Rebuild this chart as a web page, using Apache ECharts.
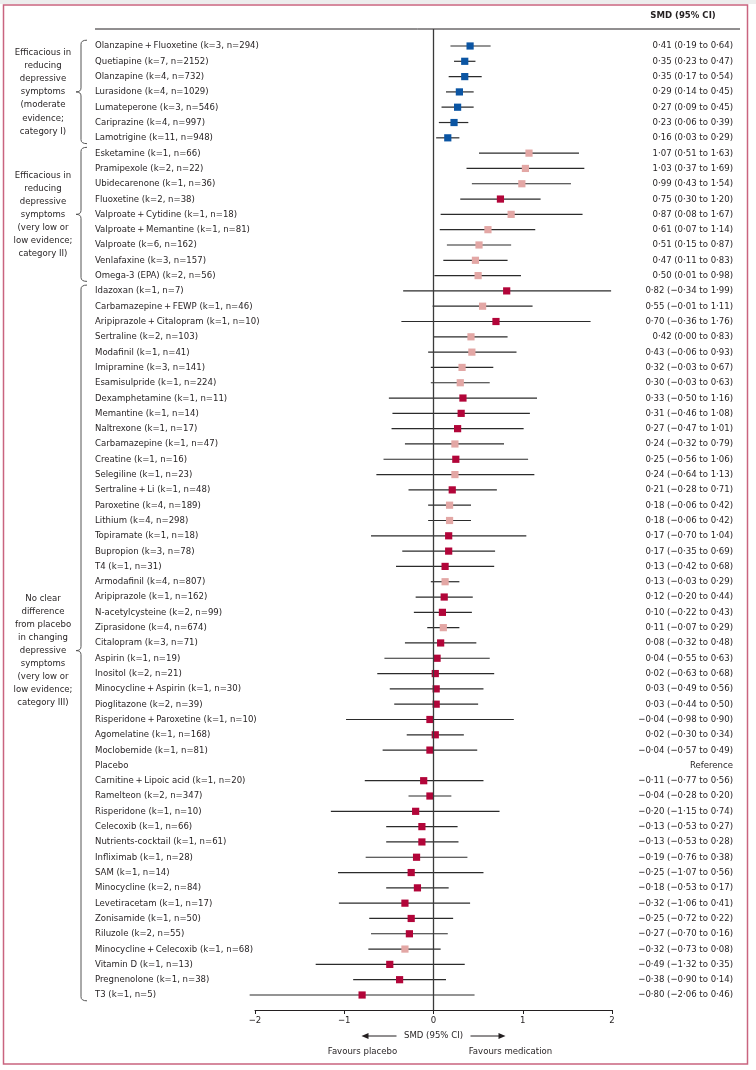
<!DOCTYPE html>
<html><head><meta charset="utf-8">
<script src="https://cdn.jsdelivr.net/npm/echarts@6/dist/echarts.min.js"></script>
<style>html,body{margin:0;padding:0;background:#fff}#c{width:756px;height:1070px}</style>
</head><body><div id="c"></div>
<script>
const T = '\u2009+\u2009';
const names = [
 'Olanzapine'+T+'Fluoxetine (k=3, n=294)','Quetiapine (k=7, n=2152)','Olanzapine (k=4, n=732)','Lurasidone (k=4, n=1029)','Lumateperone (k=3, n=546)','Cariprazine (k=4, n=997)','Lamotrigine (k=11, n=948)',
 'Esketamine (k=1, n=66)','Pramipexole (k=2, n=22)','Ubidecarenone (k=1, n=36)','Fluoxetine (k=2, n=38)','Valproate'+T+'Cytidine (k=1, n=18)','Valproate'+T+'Memantine (k=1, n=81)','Valproate (k=6, n=162)','Venlafaxine (k=3, n=157)','Omega-3 (EPA) (k=2, n=56)',
 'Idazoxan (k=1, n=7)','Carbamazepine'+T+'FEWP (k=1, n=46)','Aripiprazole'+T+'Citalopram (k=1, n=10)','Sertraline (k=2, n=103)','Modafinil (k=1, n=41)','Imipramine (k=3, n=141)','Esamisulpride (k=1, n=224)','Dexamphetamine (k=1, n=11)','Memantine (k=1, n=14)','Naltrexone (k=1, n=17)','Carbamazepine (k=1, n=47)','Creatine (k=1, n=16)','Selegiline (k=1, n=23)','Sertraline'+T+'Li (k=1, n=48)','Paroxetine (k=4, n=189)','Lithium (k=4, n=298)','Topiramate (k=1, n=18)','Bupropion (k=3, n=78)','T4 (k=1, n=31)','Armodafinil (k=4, n=807)','Aripiprazole (k=1, n=162)','N-acetylcysteine (k=2, n=99)','Ziprasidone (k=4, n=674)','Citalopram (k=3, n=71)','Aspirin (k=1, n=19)','Inositol (k=2, n=21)','Minocycline'+T+'Aspirin (k=1, n=30)','Pioglitazone (k=2, n=39)','Risperidone'+T+'Paroxetine (k=1, n=10)','Agomelatine (k=1, n=168)','Moclobemide (k=1, n=81)','Placebo','Carnitine'+T+'Lipoic acid (k=1, n=20)','Ramelteon (k=2, n=347)','Risperidone (k=1, n=10)','Celecoxib (k=1, n=66)','Nutrients-cocktail (k=1, n=61)','Infliximab (k=1, n=28)','SAM (k=1, n=14)','Minocycline (k=2, n=84)','Levetiracetam (k=1, n=17)','Zonisamide (k=1, n=50)','Riluzole (k=2, n=55)','Minocycline'+T+'Celecoxib (k=1, n=68)','Vitamin D (k=1, n=13)','Pregnenolone (k=1, n=38)','T3 (k=1, n=5)'
];
const smd = [0.41,0.35,0.35,0.29,0.27,0.23,0.16,
 1.07,1.03,0.99,0.75,0.87,0.61,0.51,0.47,0.50,
 0.82,0.55,0.70,0.42,0.43,0.32,0.30,0.33,0.31,0.27,0.24,0.25,0.24,0.21,0.18,0.18,0.17,0.17,0.13,0.13,0.12,0.10,0.11,0.08,0.04,0.02,0.03,0.03,-0.04,0.02,-0.04,null,-0.11,-0.04,-0.20,-0.13,-0.13,-0.19,-0.25,-0.18,-0.32,-0.25,-0.27,-0.32,-0.49,-0.38,-0.80];
const lower = [0.19,0.23,0.17,0.14,0.09,0.06,0.03,
 0.51,0.37,0.43,0.30,0.08,0.07,0.15,0.11,0.01,
 -0.34,-0.01,-0.36,0.00,-0.06,-0.03,-0.03,-0.50,-0.46,-0.47,-0.32,-0.56,-0.64,-0.28,-0.06,-0.06,-0.70,-0.35,-0.42,-0.03,-0.20,-0.22,-0.07,-0.32,-0.55,-0.63,-0.49,-0.44,-0.98,-0.30,-0.57,null,-0.77,-0.28,-1.15,-0.53,-0.53,-0.76,-1.07,-0.53,-1.06,-0.72,-0.70,-0.73,-1.32,-0.90,-2.06];
const upper = [0.64,0.47,0.54,0.45,0.45,0.39,0.29,
 1.63,1.69,1.54,1.20,1.67,1.14,0.87,0.83,0.98,
 1.99,1.11,1.76,0.83,0.93,0.67,0.63,1.16,1.08,1.01,0.79,1.06,1.13,0.71,0.42,0.42,1.04,0.69,0.68,0.29,0.44,0.43,0.29,0.48,0.63,0.68,0.56,0.50,0.90,0.34,0.49,null,0.56,0.20,0.74,0.27,0.28,0.38,0.56,0.17,0.41,0.22,0.16,0.08,0.35,0.14,0.46];
// marker colour class: B = category I, P = pale, C = crimson, - = none
const markerClass = 'BBBBBBB' + 'PPPCPPPPP' + 'CPCPPPPCCCPCPCPPCCCPCCPCCCCCCCC' + '-' + 'CCCCCCCCCCCPCCC';
const groupLabels = [
 ['Efficacious in','reducing','depressive','symptoms','(moderate','evidence;','category I)'],
 ['Efficacious in','reducing','depressive','symptoms','(very low or','low evidence;','category II)'],
 ['No clear','difference','from placebo','in changing','depressive','symptoms','(very low or','low evidence;','category III)']
];
const groupRanges = [[0,6],[7,15],[16,62]];
const xTicks = [-2,-1,0,1,2];

const COLORS = {B:'#0b55a3', P:'#e3a7a5', C:'#b20539'};
const FF = "'Liberation Sans Narrow','DejaVu Sans Condensed',sans-serif";
const FS = 9.5;
const FONT = FS + 'px ' + FF;
const fmt = v => (v < 0 ? '\u2212' : '') + Math.abs(v).toFixed(2).replace('.', '\u00b7');
const ciText = names.map((n,i) => smd[i] === null ? 'Reference' : `${fmt(smd[i])} (${fmt(lower[i])} to ${fmt(upper[i])})`);

const chart = echarts.init(document.getElementById('c'), null, {renderer:'canvas'});
const GRID = {left:255, right:144, top:29, bottom:60};
const option = {
  animation:false,
  backgroundColor:'#fff',
  grid:GRID,
  xAxis:{type:'value', min:xTicks[0], max:xTicks[xTicks.length-1], interval:1,
    axisLine:{show:true, onZero:false, lineStyle:{color:'#231f20', width:1}},
    axisTick:{show:true, length:4, lineStyle:{color:'#231f20'}},
    axisLabel:{color:'#231f20', fontFamily:FF, fontSize:FS, margin:6, formatter:v => v < 0 ? '\u2212' + Math.abs(v) : String(v)},
    splitLine:{show:false}},
  yAxis:{type:'value', inverse:true, min:-1.11, max:62.98, show:false},
  series:[{
    type:'custom', clip:false,
    data:names.map((n,i)=>[i, smd[i]===null?0:smd[i], lower[i]===null?0:lower[i], upper[i]===null?0:upper[i]]),
    renderItem:(params, api) => {
      const i = params.dataIndex;
      const y = api.coord([0, i])[1];
      const ch = [];
      ch.push({type:'text', style:{x:95, y:y, text:names[i], font:FONT, fill:'#231f20', align:'left', verticalAlign:'middle'}});
      ch.push({type:'text', style:{x:733, y:y, text:ciText[i], font:FONT, fill:'#231f20', align:'right', verticalAlign:'middle'}});
      if (smd[i] !== null) {
        const xl = api.coord([lower[i], i])[0], xh = api.coord([upper[i], i])[0], xm = api.coord([smd[i], i])[0];
        ch.push({type:'line', shape:{x1:xl, y1:y, x2:xh, y2:y}, style:{stroke:'#2b2b2b', lineWidth:1.2}});
        const s = 7.2;
        ch.push({type:'rect', shape:{x:xm-s/2, y:y-s/2, width:s, height:s}, style:{fill:COLORS[markerClass[i]]}});
      }
      return {type:'group', children:ch};
    },
    markLine:{silent:true, symbol:'none', label:{show:false}, lineStyle:{color:'#3a3a3a', width:1.3, type:'solid'}, data:[{xAxis:0}]}
  }]
};
chart.setOption(option);

// decorations positioned from the axes
const px = (x, r) => chart.convertToPixel({gridIndex:0}, [x, r]);
const g = [];
g.push({type:'rect', shape:{x:0, y:0, width:756, height:4}, style:{fill:'#ededed'}, z:-1});
g.push({type:'rect', shape:{x:3.5, y:5, width:744, height:1059}, style:{fill:null, stroke:'#c9647f', lineWidth:1.5}});
g.push({type:'line', shape:{x1:95, y1:GRID.top, x2:740, y2:GRID.top}, style:{stroke:'#231f20', lineWidth:1}});
g.push({type:'text', style:{x:683, y:16, text:'SMD (95% CI)', font:'bold ' + FS + 'px ' + FF, fill:'#231f20', align:'center', verticalAlign:'middle'}});
const bs = {fill:null, stroke:'#555', lineWidth:1};
groupRanges.forEach((r, gi) => {
  const y1 = px(0, r[0] - 0.38)[1], y2 = px(0, r[1] + 0.38)[1];
  let ym = (y1 + y2) / 2;
  if (gi === 2) ym = px(0, 39.5)[1];
  const x0 = 87, x1 = 81, xt = 76, rr = 4;
  g.push({type:'bezierCurve', shape:{x1:x0, y1:y1, cpx1:x1, cpy1:y1, x2:x1, y2:y1+rr}, style:bs});
  g.push({type:'line', shape:{x1:x1, y1:y1+rr, x2:x1, y2:ym-rr}, style:bs});
  g.push({type:'bezierCurve', shape:{x1:x1, y1:ym-rr, cpx1:x1, cpy1:ym, x2:xt, y2:ym}, style:bs});
  g.push({type:'bezierCurve', shape:{x1:xt, y1:ym, cpx1:x1, cpy1:ym, x2:x1, y2:ym+rr}, style:bs});
  g.push({type:'line', shape:{x1:x1, y1:ym+rr, x2:x1, y2:y2-rr}, style:bs});
  g.push({type:'bezierCurve', shape:{x1:x1, y1:y2-rr, cpx1:x1, cpy1:y2, x2:x0, y2:y2}, style:bs});
  const lines = groupLabels[gi], lh = 13.1;
  lines.forEach((t, k) => {
    g.push({type:'text', style:{x:43, y:ym + (k - (lines.length - 1) / 2) * lh, text:t, font:FONT, fill:'#231f20', align:'center', verticalAlign:'middle'}});
  });
});
const x0 = px(0, 0)[0];
const yA = 1036, yF = 1052;
g.push({type:'text', style:{x:x0, y:yA, text:'SMD (95% CI)', font:FONT, fill:'#231f20', align:'center', verticalAlign:'middle'}});
g.push({type:'line', shape:{x1:x0-37, y1:yA, x2:x0-66, y2:yA}, style:{stroke:'#231f20', lineWidth:1}});
g.push({type:'polygon', shape:{points:[[x0-72,yA],[x0-65,yA-3],[x0-65,yA+3]]}, style:{fill:'#231f20'}});
g.push({type:'line', shape:{x1:x0+37, y1:yA, x2:x0+66, y2:yA}, style:{stroke:'#231f20', lineWidth:1}});
g.push({type:'polygon', shape:{points:[[x0+72,yA],[x0+65,yA-3],[x0+65,yA+3]]}, style:{fill:'#231f20'}});
g.push({type:'text', style:{x:x0-71, y:yF, text:'Favours placebo', font:FONT, fill:'#231f20', align:'center', verticalAlign:'middle'}});
g.push({type:'text', style:{x:x0+77, y:yF, text:'Favours medication', font:FONT, fill:'#231f20', align:'center', verticalAlign:'middle'}});
chart.setOption({graphic:{elements:g}});
</script></body></html>
